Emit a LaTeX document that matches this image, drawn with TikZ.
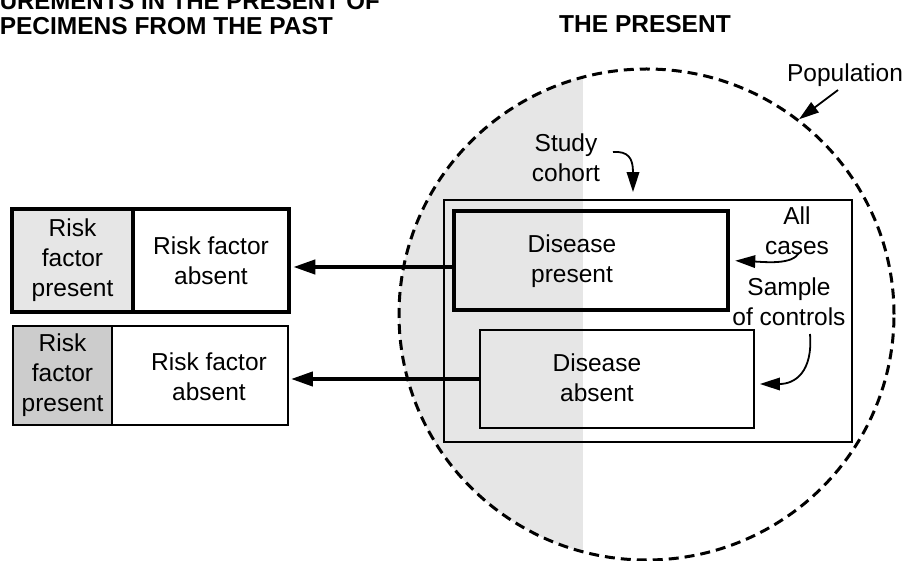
\documentclass[tikz,border=0pt]{standalone}
\usepackage{fontspec}
\setmainfont{Liberation Sans}
\usetikzlibrary{arrows.meta,shapes.geometric}
\definecolor{bandgray}{RGB}{230,230,230}
\definecolor{cellgray}{RGB}{204,204,204}
\begin{document}
\begin{tikzpicture}[x=1pt,y=-1pt,
  txt/.style={font=\fontsize{24.5}{30}\selectfont, align=center, inner sep=0pt},
  head/.style={font=\fontsize{24.5}{27}\selectfont\bfseries, inner sep=0pt},
  thickbox/.style={draw, line width=4.5pt, inner sep=0pt},
  thinbox/.style={draw, line width=1.8pt, inner sep=0pt},
  bigarrow/.style={line width=4pt, -{Triangle[length=22pt,width=14pt]}, shorten >=2pt},
  smallarrow/.style={line width=1.8pt, -{Triangle[length=20pt,width=12.5pt]}},
]
\useasboundingbox (0,0) rectangle (906,561);

% shaded band inside the population
\begin{scope}
  \clip (646.5,314.5) ellipse [x radius=247.5pt, y radius=245.5pt];
  \fill[bandgray] (380,50) rectangle (583,580);
\end{scope}

% population
\node[ellipse, draw, line width=3pt, dash pattern=on 10pt off 6pt, inner sep=0pt,
      minimum width=495pt, minimum height=491pt] (pop) at (646.5,314.5) {};

% headings
\node[head, font=\fontsize{24}{27}\selectfont\bfseries, anchor=base east] (h1) at (380,9.5) {MEASUREMENTS IN THE PRESENT OF};
\node[head, anchor=base east] (h2) at (333,35) {SPECIMENS FROM THE PAST};
\node[head, anchor=base] (h3) at (645,32.5) {THE PRESENT};

% study cohort and its groups
\node[thinbox, minimum width=408pt, minimum height=242pt] (sc) at (648,321) {};
\node[thickbox, minimum width=274pt, minimum height=99pt] (dp) at (591,260.5) {};
\node[txt] (dpt) at (572,261) {Disease\\present};
\node[thinbox, minimum width=274pt, minimum height=98pt] (da) at (617,379) {};
\node[txt] (dat) at (597,377.5) {Disease\\absent};

% left boxes
\node[thickbox, fill=bandgray, minimum width=121pt, minimum height=103pt, txt] (rfp1) at (72.5,260.5) {Risk\\factor\\present};
\node[thickbox, minimum width=156pt, minimum height=103pt, txt] (rfa1) at (211,260.5) {Risk factor\\absent};
\node[thinbox, fill=cellgray, minimum width=99pt, minimum height=99pt, txt] (rfp2) at (62.5,375.5) {Risk\\factor\\present};
\node[thinbox, minimum width=176pt, minimum height=99pt] (rfa2) at (200,375.5) {};
\node[txt] (rfa2t) at (209,377) {Risk factor\\absent};

% labels
\node[txt, anchor=base] (poplbl) at (845,82) {Population};
\node[txt] (sclbl) at (566,158) {Study\\cohort};
\node[txt] (aclbl) at (797,231) {All\\cases};
\node[txt] (solbl) at (789,302) {Sample\\of controls};

% main arrows
\coordinate (a1) at ([yshift=-6.5pt]dp.west);
\draw[bigarrow] (a1) -- (a1 -| rfa1.east);
\draw[bigarrow] (da.west) -- (da.west -| rfa2.east);

% label arrows
\coordinate (pops) at (838,90);
\draw[smallarrow] (pops) -- (pop.52);

\coordinate (scs) at (613,152);
\coordinate (sce) at ([xshift=-15pt]sc.north);
\draw[smallarrow, shorten >=7pt] (scs) .. controls (628,151) and (633,158) .. (633,172) -- (sce);

\coordinate (acs) at (799,253);
\draw[smallarrow, shorten >=5pt] (acs) .. controls (792,265) and (765,262) .. (dp.east);

\coordinate (socs) at (810,334);
\coordinate (dae) at ([yshift=-5pt]da.east);
\draw[smallarrow, shorten >=5pt] (socs) .. controls (813,372) and (795,384) .. (dae);
\end{tikzpicture}
\end{document}
